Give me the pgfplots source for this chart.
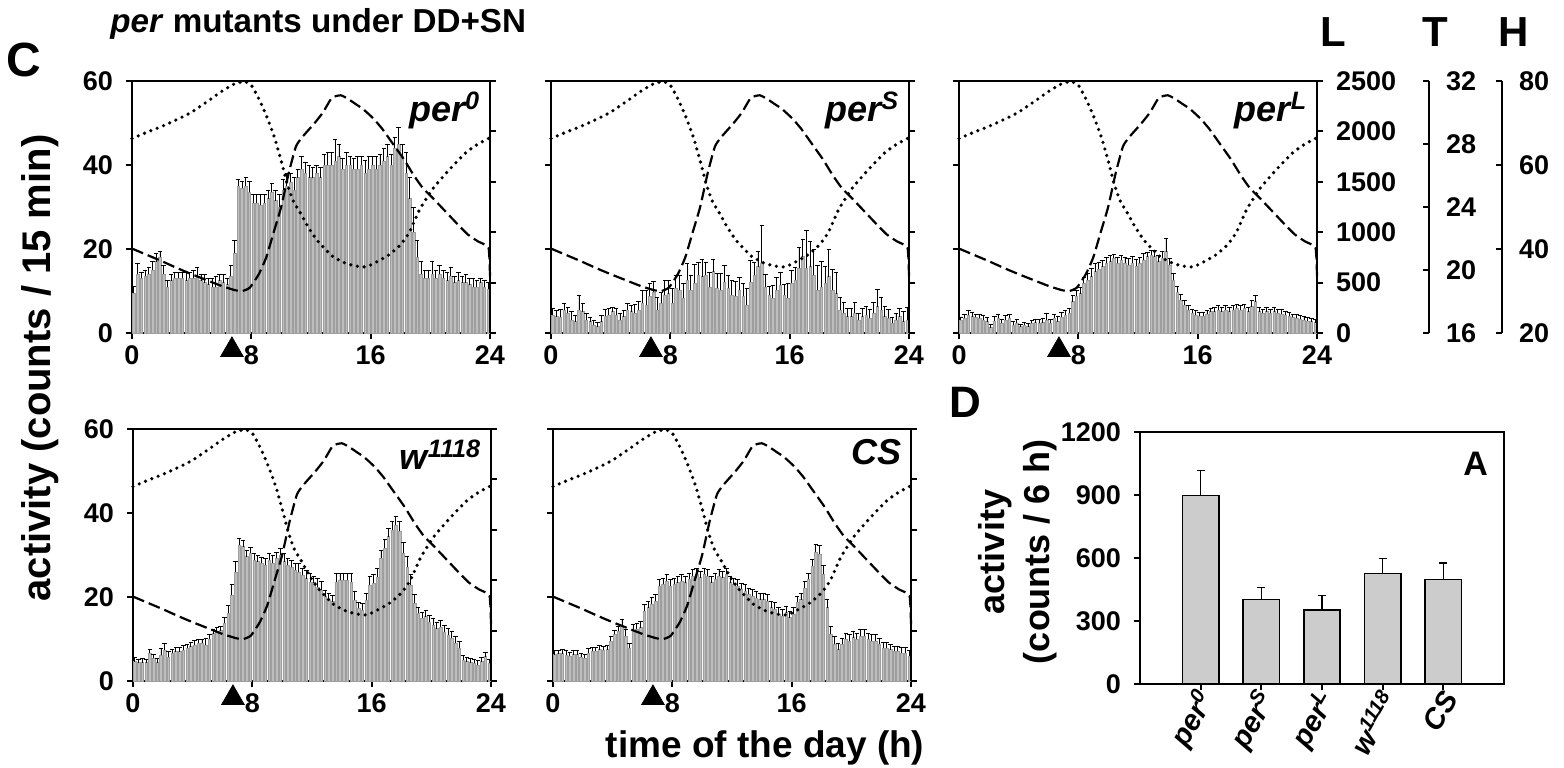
\documentclass[border=0pt]{standalone}
\usepackage{fontspec}
\setmainfont{Liberation Sans}
\usepackage{pgfplots}
\usepackage{pgfplotstable}
\pgfplotsset{compat=1.18}

\pgfplotstableread{
x p0 e0 pS eS pL eL w ew cs ecs
0.125 9.5 1.5 4.3 1.5 3.1 0.5 4.6 1 6.3 1
0.375 14 2.5 3.9 1.5 3.5 1 4.4 0.8 6.5 0.8
0.625 13 1.5 3.7 2 4.3 1 4.4 1 6.5 1
0.875 13.5 1.5 5.5 1.5 3.9 1 4.4 0.8 6.2 1
1.125 14 1.5 4.7 1.5 3.7 0.8 6.6 1 6 0.8
1.375 15 2 3.1 2 3.5 1 5.4 1 6.3 1
1.625 17 2 2.7 1.5 3.1 1 4.4 1 6.3 1
1.875 18 1.5 5.5 3.5 2.7 1 6.2 1.5 5.6 1
2.125 14 2 5.1 2 1.3 0.8 7.4 1.5 5.4 1
2.375 11 1.5 3.1 1.5 2.9 1 5.6 1.5 6.7 1
2.625 12.5 1.5 2.7 1 3.5 1 6.6 1 7.1 1
2.875 13 1.5 1.9 1 2.3 1 7 1 7.1 1
3.125 13 1.5 1.5 1 3.1 1 7 1 7.5 1
3.375 13 1.5 2.7 1.5 3.5 1 7.4 1 7.3 1
3.625 12.5 2 4 1.5 1.9 0.8 7.8 1 7.5 1
3.875 13 1.5 4.3 1.5 2.3 1 8.2 1 9.5 1
4.125 13 2 5.1 1 1.5 0.5 8.6 1 11.1 1
4.375 13.5 2 4.3 1.5 1.9 0.7 9 1 11.9 1
4.625 12.5 1.5 3.1 1.5 1.5 0.8 9 1 13.1 1.5
4.875 12 2 3.9 1.5 2.3 0.8 8.6 1.5 10.7 1.5
5.125 11.5 1.5 5.5 1.5 2.5 0.8 10 1 7.9 1
5.375 11 2 5.1 1.5 2.3 1 11.3 1 11.9 1.5
5.625 11 2.5 4.7 2 2.5 1 11.7 1 12.3 1.5
5.875 12.5 1.5 5.5 2 3.1 1.5 12 1 12.7 1.5
6.125 12 2 7.1 3 2.3 1 13.7 1.5 16.7 1.5
6.375 11.5 1.5 6.7 3.5 3.5 1 16.1 2 17.5 1.5
6.625 13.5 2.5 8.7 3 2.7 1.2 20.5 2.5 18.3 1.5
6.875 19 3 9.8 2.5 3.7 1.2 26 2.5 19 1.5
7.125 35 1.5 5.5 3 4.3 1 32.4 1.5 22.6 1.5
7.375 34.5 1.5 7.1 2.5 4.7 1.2 32 1.5 23 1.5
7.625 35 2 9 3.5 7.5 1.5 29.6 1.5 23.8 1.5
7.875 33.5 2.5 9.4 3 8.7 1.5 30.4 1.5 22.6 1.5
8.125 31 2 7.1 3.5 9.4 1.5 28.8 1.5 23 1.5
8.375 31 2 10.6 3 11.8 1.5 28.4 1.5 23.4 1.5
8.625 30.5 2.5 10.2 3.5 12.6 1.5 28 1.5 23.8 1.5
8.875 31 2 8.3 3.5 13.4 2 27.6 1.5 23.4 1.5
9.125 32 2 12.6 4 14.6 2 28.8 1.5 24.2 1.5
9.375 33.5 2 10.2 3.5 15.2 1.5 28 2 25 1.5
9.625 31.5 2.5 11.8 4.5 15.8 1.5 29.2 1.5 25.4 1.5
9.875 30 3 13.8 3 16.6 1.5 30 1.5 24.6 1.5
10.125 34 2.5 13.4 4 17 1.5 28.4 2 25.4 1.5
10.375 35 3 13.8 3 17.8 1 27.6 1.5 25 1.5
10.625 36 2 11 3.5 16.6 1.5 27.2 1.5 23.4 1.5
10.875 34 3 14.6 3 17.4 1 26.4 1.5 24.2 1.5
11.125 37 2 10.6 3.5 16.6 1.5 26 2 25 1.5
11.375 39 3 10.2 4 16.2 1.5 25.2 1.5 24.6 1.5
11.625 38 2.5 12.2 4 16.7 1.5 24.4 2 25.4 1.5
11.875 37 3 10.6 3 16 1.5 23.6 2 23.4 1.5
12.125 37 2.5 9 3.5 16.6 1.5 23.4 1.5 23 1.5
12.375 38 2 8.7 3.5 17.4 1.5 22.3 2 22.6 1.5
12.625 37 2.5 10.2 3 18.2 1 21.7 2 21.8 1.5
12.875 40 2.5 8.7 3 18.6 1 20.1 1.5 21.4 1.5
13.125 40 3 6.7 4 18.2 1.5 19.3 1.5 20.6 1.5
13.375 40 3 12.2 5 17 1.5 18.9 1.5 20.2 1.5
13.625 41 5 13.8 3 17.8 1.5 23.6 2 19.8 1.5
13.875 42 3 15.8 3.5 19.4 3 24 1.5 19.4 1.5
14.125 39 2.5 16.6 9 16.2 1.5 24 1.5 19.4 1.5
14.375 40 3 11 3 12.6 1.5 24 1.5 19 1.5
14.625 40 2 9 2 9.8 1.2 23.6 2 17.5 1.5
14.875 39 2.5 8.3 3 7.9 1.2 19.3 2 17.1 1.5
15.125 39 3 10.2 3 6.7 1 17.3 1.5 15.9 1.5
15.375 40 2 11.4 3 5.5 1 16.9 1.5 15.5 1.5
15.625 38 3 9 2.5 4.7 1 19.3 1.5 16.3 1.5
15.875 39 3 8.3 3.5 4.3 1 22.9 2 15.1 1.5
16.125 40 2 11.8 3 4 0.8 23.3 2 15.9 1.5
16.375 39 3 12.6 3 4 0.8 24.8 2 18.7 1.5
16.625 40 2.5 15.4 5 4.5 0.8 29.2 2 19.4 1.5
16.875 41 3 18.2 4 5.1 0.8 31.6 2 22.2 1.5
17.125 42 3 15.4 9 5.1 1 34.4 2 24.2 1.5
17.375 40 2.5 15.8 6 5.5 1 36 2 27.4 1.5
17.625 44 2.5 13.8 6 5.1 1 37.1 2 30.6 2
17.875 45 4 10.2 6 5.5 1 35.6 2.5 30.2 2
18.125 42 3 11 6 5.1 1 30.4 2.5 25.4 2
18.375 38 5 11.8 4 5.5 1 27.2 2.5 17.5 2
18.625 32 5 13.4 6.5 5.9 1 22.9 2.5 11.1 2
18.875 24 6 10.2 5 5.5 1 18.5 2 8.7 2
19.125 18 4 9.4 5 5.9 1 16.1 1.5 7.5 1.5
19.375 14 3 5.5 3 5.1 1 14.9 1.5 8.7 1.5
19.625 13 2 4.7 2.5 6.3 1.5 15.3 1.5 9.9 1.5
19.875 13 2 3.9 2 7.5 1.5 14.1 1.5 9.5 1.5
20.125 14 3 3.9 2 5.1 1 13.3 1.5 10.3 1.5
20.375 13 2 4.7 2.5 4.7 1 12.5 1.5 9.9 1.5
20.625 14 2 3.1 1.5 5.1 1 12.9 1.5 10.7 1.5
20.875 13 2 3.9 2 4.7 1 11.7 1.5 10.7 1.5
21.125 12.5 2 4.3 2 5.1 1 11 1.5 9.9 1.5
21.375 13.5 2 3.5 2 4.7 1 10.2 1.5 9.5 1.5
21.625 12 1.5 4.7 2.5 4.5 1 9 1.5 9.5 1.5
21.875 12.5 2 6.3 4 4.3 0.8 7.8 1.5 8.7 1.5
22.125 12 1.5 5.5 3 4 0.8 5 1 7.9 1.2
22.375 12 2 3.9 2.5 3.7 0.8 4.6 1 7.9 1.2
22.625 11.5 1.5 3.5 2 3.5 0.8 4.4 1 7.5 1.2
22.875 11 2 2.3 1.5 3.3 0.8 4.2 1 7.1 1.2
23.125 11 1.5 3.1 1.5 3.1 0.8 3.8 1 7.1 1.2
23.375 12 1 3.9 2 2.9 0.8 4.6 1 6.7 1.2
23.625 11 1.5 2.7 2.5 2.7 0.8 5.8 1 6.7 1.2
23.875 10.5 1.5 3.1 3 2.5 0.8 4.2 1 6 1.2
}\act

\pgfplotstableread{
x y
0 20.1
1 18.6
2 17.1
3 15.5
4 14
5 12.6
6 11.2
6.9 10.2
7.4 10
7.9 10.8
8.5 14
9.0 18
9.5 24
10.0 30
10.5 38
11.0 44.5
11.5 47
12.2 49.8
12.8 52.5
13.4 56
14.0 56.6
14.5 55.7
15.0 54.5
15.5 53.3
16.2 51
16.8 48.5
17.4 45.5
18.2 41.5
18.9 37.5
19.5 34.5
20.2 32
21.0 29
21.8 26
22.5 23.5
23.2 21.8
23.9 20.3
24.0 13.5
}\dashT

\pgfplotstableread{
x y
0 46.3
1 47.8
2 49.2
3 50.8
4 52.6
5 55.0
6 57.5
6.8 59.2
7.5 59.9
8.0 59.0
8.4 56.5
8.8 53.5
9.2 50
9.6 46
10.0 41
10.4 35.6
10.8 31.5
11.3 28.5
11.8 25.3
12.4 22.1
13.0 19.8
13.5 18.1
14.2 16.8
14.8 16.1
15.5 15.7
16.0 16.2
16.6 17.3
17.3 18.8
18.0 21
18.6 24
19.3 29.5
20.2 34.5
21.3 39
22.4 43
23.2 45
24.0 46.5
}\dotH

\pgfplotstableread{
x y e
1 898 119
2 402 57
3 351 70
4 527 70
5 497 78
}\dtab

\pgfplotsset{
 common/.style={anchor=south west, width=179pt, height=126pt, scale only axis,
   xmin=0, xmax=24, clip=false,
   axis line style={line width=1pt}, tick style={line width=1pt,black},
   tick align=outside, major tick length=3pt,
   scaled ticks=false,
   /pgf/number format/assume math mode=true, /pgf/number format/1000 sep={},
   ticklabel style={font=\bfseries\fontsize{13.5}{15}\selectfont}},
 panel/.style={common, ymin=0, ymax=60, xtick={0,8,16,24}, ytick={0,20,40,60},
   xtick pos=left, ytick pos=left, yticklabel style={xshift=-3pt}},
 laxis/.style={common, ymin=0, ymax=2500, ytick={0,500,...,2500}, hide x axis,
   axis y line*=right, yticklabel style={xshift=3pt}},
 sideaxis/.style={anchor=south west, width=10pt, height=126pt, scale only axis,
   hide x axis, axis y line*=right, xmin=0, xmax=1,
   tick align=inside, major tick length=3pt, axis line style={line width=1pt},
   tick style={line width=1pt,black}, /pgf/number format/assume math mode=true,
   ticklabel style={font=\bfseries\fontsize{13.5}{15}\selectfont},
   yticklabel style={xshift=5pt}},
}
\tikzset{plab/.style={anchor=north east, inner sep=2pt, font=\bfseries\itshape\fontsize{18}{21}\selectfont}}

\newcommand{\panelplots}[2]{%
 \addplot[ybar, bar width=0.17, fill=black!26, draw=black!38, line width=0.25pt,
   error bars/.cd, y dir=plus, y explicit,
   error bar style={black, line width=0.45pt},
   error mark options={rotate=90, black, line width=0.45pt, mark size=1.1pt}]
   table[x=x, y=#1, y error=#2] {\act};
 \addplot[black, line width=1.1pt, dash pattern=on 6pt off 2.5pt, smooth, tension=0.3] table[x=x,y=y] {\dashT};
 \addplot[black, line width=1.8pt, line cap=round, dash pattern=on 0pt off 3.4pt, smooth, tension=0.3] table[x=x,y=y] {\dotH};
 \addplot[only marks, mark=triangle*, mark size=6.5pt, black] coordinates {(6.7,-4.05)};
}

\begin{document}
\begin{tikzpicture}
\useasboundingbox (0,0) rectangle (782pt,383.5pt);

% panel per0
\begin{axis}[panel, at={(66pt,217pt)}]
\panelplots{p0}{e0}
\node[plab] at (rel axis cs:0.985,0.975) {per\textsuperscript{0}};
\end{axis}
\begin{axis}[laxis, at={(66pt,217pt)}, yticklabels={}]
\end{axis}

% panel perS
\begin{axis}[panel, at={(275.5pt,217pt)}, yticklabels={}]
\panelplots{pS}{eS}
\node[plab] at (rel axis cs:0.985,0.975) {per\textsuperscript{S}};
\end{axis}
\begin{axis}[laxis, at={(275.5pt,217pt)}, yticklabels={}]
\end{axis}

% panel perL
\begin{axis}[panel, at={(479.5pt,217pt)}, yticklabels={}]
\panelplots{pL}{eL}
\node[plab] at (rel axis cs:0.985,0.975) {per\textsuperscript{L}};
\end{axis}
\begin{axis}[laxis, at={(479.5pt,217pt)}]
\end{axis}

% T axis
\begin{axis}[sideaxis, at={(704.5pt,217pt)}, ymin=16, ymax=32, ytick={16,20,...,32}]
\end{axis}
% H axis
\begin{axis}[sideaxis, at={(741pt,217pt)}, ymin=20, ymax=80, ytick={20,40,...,80}]
\end{axis}

% panel w1118
\begin{axis}[panel, at={(66.5pt,43pt)}]
\panelplots{w}{ew}
\node[plab] at (rel axis cs:0.985,0.975) {w\textsuperscript{1118}};
\end{axis}
\begin{axis}[laxis, at={(66.5pt,43pt)}, yticklabels={}]
\end{axis}

% panel CS
\begin{axis}[panel, at={(276.5pt,43pt)}, yticklabels={}]
\panelplots{cs}{ecs}
\node[plab] at (rel axis cs:0.985,0.975) {CS};
\end{axis}
\begin{axis}[laxis, at={(276.5pt,43pt)}, yticklabels={}]
\end{axis}

% panel D
\begin{axis}[common, at={(570pt,41.5pt)}, width=182pt, xmin=0, xmax=6, ymin=0, ymax=1200,
  ytick={0,300,...,1200}, xtick={1,...,5}, xtick pos=left, ytick pos=left,
  yticklabel style={xshift=-3pt},
  xticklabels={per\textsuperscript{0},per\textsuperscript{S},per\textsuperscript{L},w\textsuperscript{1118},CS},
  xticklabel style={xshift=4pt, yshift=-1pt, rotate=60, anchor=east, inner sep=1pt, font=\bfseries\itshape\fontsize{14.5}{16}\selectfont}]
\addplot[ybar, bar width=0.6, fill=black!20, draw=black, line width=0.8pt,
  error bars/.cd, y dir=plus, y explicit,
  error bar style={black, line width=0.8pt},
  error mark options={rotate=90, black, line width=0.8pt, mark size=2pt}]
  table[x=x, y=y, y error=e] {\dtab};
\node[anchor=north east, font=\bfseries\fontsize{17}{20}\selectfont] at (rel axis cs:0.975,0.95) {A};
\end{axis}

% texts
\node[anchor=base west, inner sep=0, font=\bfseries\fontsize{24}{28}\selectfont] at (3pt,345pt) {C};
\node[anchor=base west, inner sep=0, font=\bfseries\fontsize{16.6}{19}\selectfont] at (55pt,367pt) {\textit{per} mutants under DD+SN};
\node[rotate=90, inner sep=0, font=\bfseries\fontsize{20}{24}\selectfont] at (20pt,199.5pt) {activity (counts / 15 min)};
\node[anchor=base, inner sep=0, font=\bfseries\fontsize{18.5}{22}\selectfont] at (382.5pt,5pt) {time of the day (h)};
\node[anchor=base west, inner sep=0, font=\bfseries\fontsize{22}{26}\selectfont] at (474.5pt,175pt) {D};
\node[rotate=90, align=center, inner sep=0, font=\bfseries\fontsize{18}{22.5}\selectfont] at (509pt,107.5pt) {activity\\(counts / 6 h)};
\node[anchor=base west, inner sep=0, font=\bfseries\fontsize{21}{24}\selectfont] at (660pt,360pt) {L};
\node[anchor=base west, inner sep=0, font=\bfseries\fontsize{21}{24}\selectfont] at (711pt,360pt) {T};
\node[anchor=base west, inner sep=0, font=\bfseries\fontsize{21}{24}\selectfont] at (749pt,360pt) {H};
\end{tikzpicture}
\end{document}
